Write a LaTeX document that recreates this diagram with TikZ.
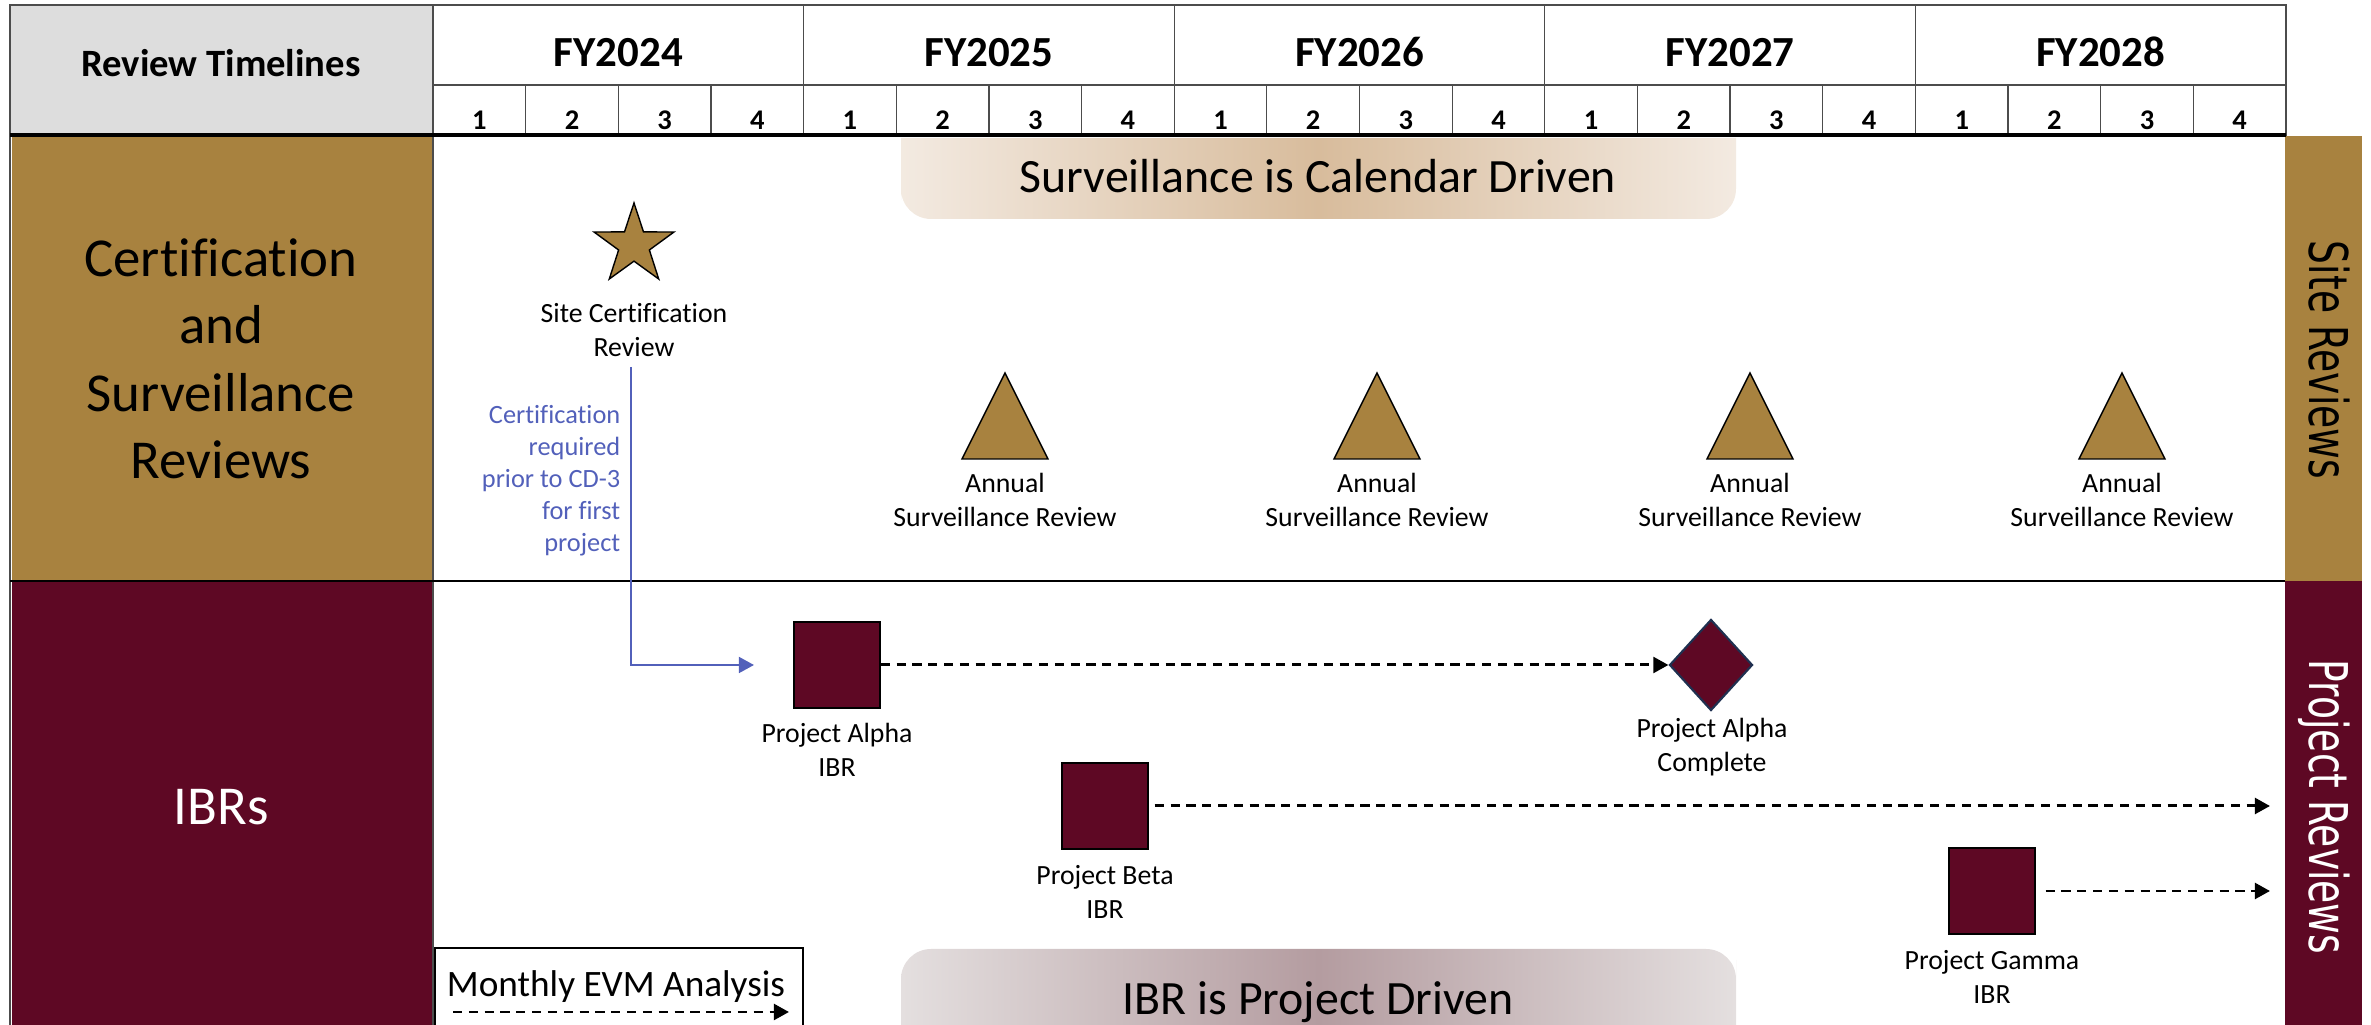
\documentclass[tikz,border=0pt]{standalone}
\usepackage{fontspec}
\setmainfont{Carlito}[Ligatures=CommonOff]
\newfontfamily\bandfont{DejaVu Sans}
\usepackage{graphicx}
\usetikzlibrary{shapes.geometric, arrows.meta}

\definecolor{certbrown}{RGB}{168,130,63}
\definecolor{ibrmaroon}{RGB}{94,8,36}
\definecolor{hdrgrey}{RGB}{221,221,221}
\definecolor{noteblue}{RGB}{82,96,186}
\definecolor{milenavy}{RGB}{31,48,80}
\definecolor{calend}{RGB}{243,234,225}
\definecolor{calmid}{RGB}{216,188,156}
\definecolor{projend}{RGB}{228,223,223}
\definecolor{projmid}{RGB}{180,156,160}

\begin{document}
\begin{tikzpicture}[
		x=0.01cm, y=-0.01cm,
		every node/.style={inner sep=0pt},
		yearlbl/.style={font=\bfseries\fontsize{12.2}{14}\selectfont, anchor=base},
		qtrlbl/.style={font=\bfseries\fontsize{8.1}{10}\selectfont, anchor=base},
		rowlbl/.style={font=\fontsize{15.6}{19.2}\selectfont, align=center},
		bandlbl/.style={font=\bandfont\fontsize{10.7}{12}\selectfont, rotate=-90, anchor=base},
		eventlbl/.style={font=\fontsize{7.9}{9.5}\selectfont, align=center},
		bannerlbl/.style={font=\fontsize{13.6}{16}\selectfont, anchor=base},
		ibrbox/.style={rectangle, draw=black, line width=0.4pt, fill=ibrmaroon, minimum size=0.86cm},
		gridline/.style={draw=black!70, line width=0.35pt},
		evmarrow/.style={line width=0.85pt, dash pattern=on 2.6pt off 1.9pt, -{Triangle[length=4.3pt, width=4.5pt]}},
		notearrow/.style={draw=noteblue, line width=0.7pt, -{Triangle[length=4.3pt, width=4.5pt]}}
	]
  \useasboundingbox (0,0) rectangle (2371,1025);
  \clip (0,0) rectangle (2371,1025);

  \fill[hdrgrey] (10,5) rectangle (433,135);
  \fill[certbrown] (12,136) rectangle (433,581);
  \fill[ibrmaroon] (12,581) rectangle (433,1040);
  \fill[certbrown] (2285,136) rectangle (2362,581);
  \fill[ibrmaroon] (2285,581) rectangle (2362,1040);

  \draw[gridline] (10,5) rectangle (2286,135);
  \draw[gridline] (433,85) -- (2286,85);
  \draw[gridline] (10,135) -- (10,1040);
  \draw[gridline] (433,5) -- (433,1040);
  \foreach \q in {1,...,19}
    \draw[gridline] ({433+92.65*\q},85) -- ({433+92.65*\q},135);
  \foreach \q in {4,8,12,16}
    \draw[gridline] ({433+92.65*\q},5) -- ({433+92.65*\q},85);
  \draw[black, line width=0.9pt] (10,135) -- (2286,135);
  \draw[black, line width=0.6pt] (10,581) -- (2285,581);

  \node (revtl) [font=\bfseries\fontsize{11}{13}\selectfont, anchor=base] at (221,77) {Review Timelines};
  \foreach \fy [count=\i from 0] in {2024,...,2028}
    \node (fy\fy) [yearlbl] at ({433+370.6*(\i+0.5)},67) {FY\fy};
  \foreach \q in {0,...,19} {
    \pgfmathtruncatemacro\qn{mod(\q,4)+1}
    \node (q\q) [qtrlbl] at ({433+92.65*(\q+0.5)},130) {\qn};
  }

  \node (certrow) [rowlbl] at (221,359) {Certification\\and\\Surveillance\\Reviews};
  \node (ibrrow) [rowlbl, text=white, anchor=base] at (221,825) {IBRs};
  \node (sitebandlbl) [bandlbl] at (2309,360) {\scalebox{1}[1.42]{Site Reviews}};
  \node (projbandlbl) [bandlbl, text=white] at (2309,807) {\scalebox{1}[1.42]{Project Reviews}};

  \shade[left color=calend, right color=calend, middle color=calmid]
    (901,138) -- (1736,138) -- (1736,170) {[rounded corners=0.3cm] -- (1736,219) -- (901,219) -- (901,170)} -- cycle;
  \node (calbanner) [bannerlbl] at (1318,193) {Surveillance is Calendar Driven};
  \shade[left color=projend, right color=projend, middle color=projmid]
    (901,1060) -- (901,990) {[rounded corners=0.3cm] -- (901,949) -- (1736,949) -- (1736,990)} -- (1736,1060) -- cycle;
  \node (projbanner) [bannerlbl] at (1318,1015) {IBR is Project Driven};

  \node (sitecert) [star, star points=5, star point ratio=2.6, minimum size=0.84cm, fill=certbrown, draw=black, line width=0.4pt] at (634,245) {};
  \node (sitecertlbl) [eventlbl] at (634,330) {Site Certification\\Review};
  \foreach \ax [count=\i] in {1005,1377,1750,2122} {
    \draw[fill=certbrown, draw=black, line width=0.4pt] (\ax-43,459) -- (\ax,373) -- (\ax+43,459) -- cycle;
    \node (annual\i) [eventlbl] at (\ax,500) {Annual\\Surveillance Review};
  }

  \node (cd3note) [font=\fontsize{7.5}{9.1}\selectfont, align=right, text=noteblue, anchor=east] at (621,481) {Certification\\required\\prior to CD-3\\for first\\project};
  \coordinate (certdrop) at (631,367);
  \coordinate (certhit) at (754,665);
  \draw[notearrow] (certdrop) |- (certhit);

  \node (alpha) [ibrbox] at (837,665) {};
  \node (alphalbl) [eventlbl] at (837,750) {Project Alpha\\IBR};
  \node (alphadone) [diamond, minimum width=0.83cm, minimum height=0.91cm, fill=ibrmaroon, draw=milenavy, line width=0.6pt] at (1711,665) {};
  \node (alphadonelbl) [eventlbl] at (1712,747) {Project Alpha\\Complete};
  \node (beta) [ibrbox] at (1105,806) {};
  \node (betalbl) [eventlbl] at (1105,892) {Project Beta\\IBR};
  \node (gamma) [ibrbox] at (1992,891) {};
  \node (gammalbl) [eventlbl] at (1992,977) {Project Gamma\\IBR};
  \coordinate (betaend) at (2270,806);
  \coordinate (gammaend) at (2270,891);

  \draw[evmarrow] (alpha.east) -- (alphadone.west);
  \draw[evmarrow, shorten <=1.7pt] (beta.east) -- (betaend);
  \draw[evmarrow, shorten <=2.8pt] (gamma.east) -- (gammaend);

  \draw[black, line width=0.8pt] (435,1040) -- (435,948) -- (803,948) -- (803,1040);
  \node (evmlbl) [font=\fontsize{10.6}{12}\selectfont, anchor=base] at (616,997) {Monthly EVM Analysis};
  \coordinate (evmstart) at (453,1012);
  \coordinate (evmend) at (789,1012);
  \draw[evmarrow] (evmstart) -- (evmend);
\end{tikzpicture}
\end{document}
